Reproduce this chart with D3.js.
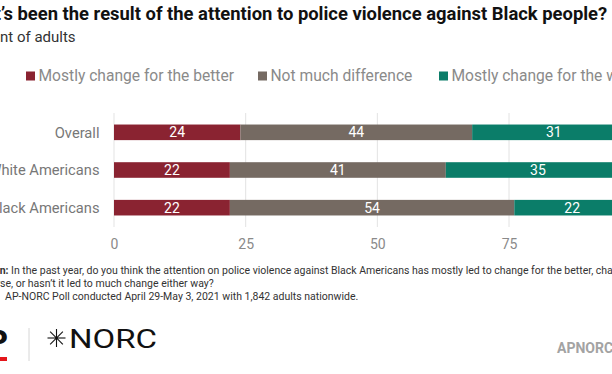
<!DOCTYPE html>
<html>
<head>
<meta charset="utf-8">
<script src="https://cdn.jsdelivr.net/npm/d3@7"></script>
<style>
  body { margin: 0; background: #fff; }
  svg { display: block; font-family: Roboto, "Open Sans", sans-serif; }
</style>
</head>
<body>
<div id="chart"></div>
<script>
var w = 612;
var h = 374;

// data
var categories = ["Overall", "White Americans", "Black Americans"];
var seriesNames = ["Mostly change for the better", "Not much difference", "Mostly change for the worse"];
var better = [24, 22, 22];
var noDiff = [44, 41, 54];
var worse = [31, 35, 22];
var ticks = [0, 25, 50, 75, 100];
var colors = ["#8a2331", "#756a62", "#0b7d69"];

var svg = d3.select("#chart")
    .append("svg")
    .attr("width", w)
    .attr("height", h);

// shift a text so that character k starts at visible x
function placeFrom(sel, k, vx) {
    sel.attr("x", 0);
    var node = sel.node();
    var px = node.getStartPositionOfChar(k).x;
    sel.attr("x", vx - px);
}

// title + subtitle (cut off at the left like the original)
var title = svg.append("text")
    .attr("y", 20)
    .attr("font-size", "18.4px")
    .attr("font-weight", "bold")
    .attr("fill", "#111")
    .text("What\u2019s been the result of the attention to police violence against Black people?");
placeFrom(title, 4, 1);

var sub = svg.append("text")
    .attr("y", 41.5)
    .attr("font-size", "15px")
    .attr("fill", "#333")
    .text("Percent of adults");
placeFrom(sub, 5, 0);

// legend
var legendX = [26, 258, 439];
var legend = svg.selectAll(".legend")
    .data(seriesNames)
    .enter()
    .append("g")
    .attr("class", "legend")
    .attr("transform", function(d, i){ return "translate(" + legendX[i] + ",0)"; });

legend.append("rect")
    .attr("x", 0)
    .attr("y", 71.5)
    .attr("width", 9)
    .attr("height", 9)
    .attr("fill", function(d, i){ return colors[i]; });

legend.append("text")
    .attr("x", 12.5)
    .attr("y", 81)
    .attr("font-size", "15.6px")
    .attr("fill", "#8a8a8a")
    .text(function(d){ return d; });

// scales
var xScale = d3.scaleLinear()
    .domain([0, 100])
    .range([114, 640.7]);

var yScale = d3.scaleBand()
    .domain(categories)
    .range([113, 227])
    .paddingInner(0.586)
    .paddingOuter(0.306);

// grid
svg.selectAll(".grid")
    .data(ticks)
    .enter()
    .append("line")
    .attr("class", "grid")
    .attr("x1", function(d){ return xScale(d); })
    .attr("x2", function(d){ return xScale(d); })
    .attr("y1", 113)
    .attr("y2", 227)
    .attr("stroke", "#e3e3e3")
    .attr("stroke-width", 1);

// x axis labels
var xAxis = d3.axisBottom(xScale)
    .tickValues(ticks)
    .tickSize(0)
    .tickPadding(0);

var axisG = svg.append("g")
    .attr("transform", "translate(0,239)")
    .call(xAxis);
axisG.select(".domain").remove();
axisG.selectAll("text")
    .attr("font-family", "Roboto, sans-serif")
    .attr("font-size", "14px")
    .attr("fill", "#8a8a8a");

// category labels
svg.selectAll(".cat")
    .data(categories)
    .enter()
    .append("text")
    .attr("class", "cat")
    .attr("x", 99.5)
    .attr("y", function(d){ return yScale(d) + yScale.bandwidth() / 2 + 5.2; })
    .attr("text-anchor", "end")
    .attr("font-size", "14.7px")
    .attr("fill", "#777")
    .text(function(d){ return d; });

// stacked bars
var rows = categories.map(function(c, i){
    return { cat: c, values: [better[i], noDiff[i], worse[i]] };
});
var segs = [];
rows.forEach(function(r){
    var start = 0;
    r.values.forEach(function(v, j){
        segs.push({ cat: r.cat, series: j, x0: start, x1: start + v, v: v });
        start += v;
    });
});

svg.selectAll(".bar")
    .data(segs)
    .enter()
    .append("rect")
    .attr("class", "bar")
    .attr("x", function(d){ return xScale(d.x0); })
    .attr("y", function(d){ return yScale(d.cat); })
    .attr("width", function(d){ return xScale(d.x1) - xScale(d.x0); })
    .attr("height", yScale.bandwidth())
    .attr("fill", function(d){ return colors[d.series]; });

svg.selectAll(".val")
    .data(segs)
    .enter()
    .append("text")
    .attr("class", "val")
    .attr("x", function(d){ return (xScale(d.x0) + xScale(d.x1)) / 2; })
    .attr("y", function(d){ return yScale(d.cat) + yScale.bandwidth() / 2 + 5; })
    .attr("text-anchor", "middle")
    .attr("font-size", "14px")
    .attr("fill", "#fff")
    .text(function(d){ return d.v; });

// notes: bold lead word ends at a fixed x, the rest follows from restX
function noteLine(y, lead, leadEnd, restX, rest) {
    var t = svg.append("text")
        .attr("y", y)
        .attr("font-size", "10.5px")
        .attr("fill", "#333");
    t.append("tspan")
        .attr("x", leadEnd)
        .attr("text-anchor", "end")
        .attr("font-weight", "bold")
        .text(lead);
    t.append("tspan")
        .attr("x", restX)
        .attr("text-anchor", "start")
        .text(rest);
    return t;
}
noteLine(274, "Question:", 8.5, 8.5, " In the past year, do you think the attention on police violence against Black Americans has mostly led to change for the better, change for the worse,");

var n2 = svg.append("text")
    .attr("y", 287)
    .attr("font-size", "10.5px")
    .attr("fill", "#333")
    .text("worse, or hasn\u2019t it led to much change either way?");
placeFrom(n2, 3, 0);

noteLine(300, "Source:", -0.5, 2.5, " AP-NORC Poll conducted April 29-May 3, 2021 with 1,842 adults nationwide.");

// logos
svg.append("text")
    .attr("x", 8)
    .attr("y", 351)
    .attr("text-anchor", "end")
    .attr("font-size", "29px")
    .attr("font-weight", "900")
    .attr("fill", "#111")
    .text("AP");
svg.append("rect")
    .attr("x", 0).attr("y", 357)
    .attr("width", 7).attr("height", 4)
    .attr("fill", "#e4161b");

svg.append("line")
    .attr("x1", 29).attr("x2", 29)
    .attr("y1", 328).attr("y2", 361)
    .attr("stroke", "#d6d6d6");

// NORC star
var star = svg.append("g").attr("transform", "translate(56.5,338)");
d3.range(4).forEach(function(i){
    var a = i * Math.PI / 4;
    star.append("line")
        .attr("x1", -9 * Math.cos(a)).attr("y1", -9 * Math.sin(a))
        .attr("x2", 9 * Math.cos(a)).attr("y2", 9 * Math.sin(a))
        .attr("stroke", "#111")
        .attr("stroke-width", 1.1);
});
star.append("circle").attr("r", 1.2).attr("fill", "#111");

svg.append("text")
    .attr("x", 69)
    .attr("y", 347.5)
    .attr("font-size", "25.5px")
    .attr("textLength", 88)
    .attr("lengthAdjust", "spacingAndGlyphs")
    .attr("fill", "#111")
    .text("NORC");

svg.append("text")
    .attr("x", 557)
    .attr("y", 353)
    .attr("font-size", "14px")
    .attr("font-weight", "bold")
    .attr("fill", "#a3a3a3")
    .text("APNORC.org");
</script>
</body>
</html>
